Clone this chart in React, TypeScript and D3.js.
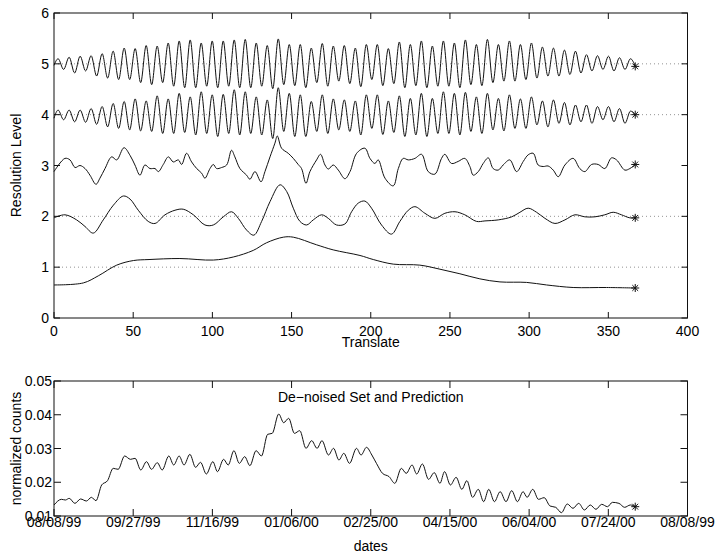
import React from "react";
import * as d3 from "d3";

// ---------- data ----------
const topXTicks = [0, 50, 100, 150, 200, 250, 300, 350, 400];
const topYTicks = [0, 1, 2, 3, 4, 5, 6];
const dottedLevels = [1, 2, 4, 5];

// weekly oscillation of levels 5 and 4: peak / trough deviations from the level
const cycleStart = 2.6;
const cyclePeriod = 6.95;
const level5Start = -0.03;
const level5End = -0.05;
const level5Peaks = [0.10, 0.13, 0.15, 0.16, 0.20, 0.25, 0.31, 0.30, 0.36, 0.35, 0.41, 0.45, 0.47, 0.41, 0.45, 0.45, 0.47, 0.48,
  0.41, 0.36, 0.49, 0.38, 0.38, 0.31, 0.40, 0.35, 0.36, 0.31, 0.38, 0.38, 0.30, 0.43, 0.38, 0.45, 0.35,
  0.45, 0.41, 0.47, 0.38, 0.48, 0.38, 0.45, 0.38, 0.41, 0.33, 0.31, 0.27, 0.25, 0.18, 0.16, 0.15, 0.12, 0.10];
const level5Troughs = [-0.11, -0.18, -0.14, -0.24, -0.28, -0.31, -0.31, -0.37, -0.41, -0.37, -0.44, -0.47, -0.47, -0.44, -0.47, -0.44, -0.47, -0.47,
  -0.44, -0.49, -0.41, -0.43, -0.47, -0.37, -0.44, -0.34, -0.39, -0.45, -0.31, -0.43, -0.39, -0.47, -0.43, -0.47, -0.44,
  -0.44, -0.47, -0.41, -0.43, -0.37, -0.34, -0.34, -0.31, -0.28, -0.24, -0.24, -0.21, -0.18, -0.14, -0.11, -0.14, -0.11];
const level4Start = -0.07;
const level4End = 0.0;
const level4Peaks = [0.09, 0.09, 0.09, 0.12, 0.16, 0.22, 0.26, 0.31, 0.27, 0.37, 0.31, 0.42, 0.35, 0.45, 0.39, 0.40, 0.49, 0.45,
  0.35, 0.29, 0.53, 0.42, 0.39, 0.26, 0.39, 0.31, 0.29, 0.27, 0.39, 0.39, 0.27, 0.37, 0.32, 0.42, 0.32,
  0.45, 0.42, 0.44, 0.35, 0.42, 0.32, 0.39, 0.31, 0.35, 0.27, 0.29, 0.24, 0.19, 0.19, 0.16, 0.16, 0.12, 0.07];
const level4Troughs = [-0.10, -0.14, -0.15, -0.19, -0.24, -0.27, -0.30, -0.32, -0.33, -0.37, -0.37, -0.35, -0.40, -0.37, -0.43, -0.37, -0.40, -0.37,
  -0.40, -0.47, -0.33, -0.43, -0.43, -0.33, -0.37, -0.30, -0.33, -0.40, -0.27, -0.39, -0.35, -0.43, -0.40, -0.43, -0.37,
  -0.37, -0.40, -0.33, -0.37, -0.30, -0.32, -0.27, -0.27, -0.20, -0.24, -0.17, -0.20, -0.14, -0.17, -0.10, -0.14, -0.17];

const level3Days = [0, 6.9, 10.1, 13.3, 16.4, 19.6, 22.7, 26.5, 29.0, 32.2, 36.4, 39.6, 44.2, 48.0, 51.1, 54.3, 57.4, 60.6, 63.8, 65.9,
  69.0, 72.2, 75.3, 78.5, 80.6, 83.7, 86.9, 90.1, 93.2, 95.3, 98.5, 100.6, 102.7, 105.8, 109.0, 112.1, 114.2, 117.4, 121.6, 123.7,
  126.9, 130.7, 133.2, 136.4, 139.5, 141.0, 143.7, 147.9, 151.1, 154.2, 156.3, 159.1, 161.6, 165.8, 168.3, 171.1, 173.2, 176.3, 179.5,
  183.7, 186.9, 191.1, 196.3, 199.5, 202.6, 204.7, 209.0, 214.2, 217.4, 220.5, 223.7, 227.9, 232.1, 236.3, 240.5, 244.7, 246.8, 251.0,
  255.2, 259.4, 262.6, 264.7, 267.9, 271.0, 274.2, 277.3, 280.5, 283.6, 287.8, 292.1, 296.3, 299.4, 302.6, 305.7, 308.9, 312.0, 315.2,
  318.4, 322.6, 327.8, 332.0, 335.2, 339.4, 343.6, 347.8, 352.0, 355.2, 360.4, 363.6, 367];
const level3Values = [2.88, 3.14, 3.11, 2.96, 3.0, 2.94, 2.81, 2.63, 2.75, 2.94, 3.17, 3.11, 3.35, 3.2, 3.01, 2.81, 3.01, 2.94, 2.94, 2.88,
  3.02, 3.17, 3.07, 3.11, 3.02, 3.24, 3.07, 2.94, 2.85, 2.75, 2.94, 3.02, 2.94, 2.96, 3.01, 3.3, 3.17, 2.94, 2.81, 2.73,
  2.88, 2.68, 2.88, 3.17, 3.44, 3.58, 3.34, 3.24, 3.14, 3.02, 2.94, 2.65, 2.88, 3.11, 3.22, 3.01, 2.93, 3.01, 2.91,
  2.74, 2.88, 3.24, 3.34, 3.14, 3.04, 3.11, 2.75, 2.6, 2.94, 3.14, 3.11, 3.14, 3.22, 2.88, 2.83, 3.14, 3.22, 3.04,
  3.08, 3.14, 2.98, 2.81, 2.88, 3.04, 3.15, 2.94, 2.91, 3.01, 3.11, 2.88, 3.08, 3.21, 3.24, 3.01, 2.98, 2.99, 2.91,
  2.78, 3.01, 3.14, 2.94, 2.88, 3.02, 3.02, 2.94, 3.15, 3.11, 2.91, 2.94, 3.02];

const level2Days = [0, 6.9, 14.3, 19.6, 24.8, 31.1, 37.5, 43.8, 48.0, 53.2, 59.5, 63.8, 70.1, 76.4, 81.6, 88.0, 95.3, 100.6, 106.9,
  112.1, 116.4, 121.6, 126.2, 131.1, 136.4, 142.7, 146.9, 151.1, 155.3, 159.5, 163.7, 169.0, 173.2, 178.4, 183.7, 187.9, 192.1,
  196.3, 200.5, 206.8, 213.1, 218.4, 223.7, 227.9, 234.2, 240.5, 246.8, 253.2, 259.4, 266.8, 272.1, 280.5, 289.0, 294.2, 299.4,
  304.7, 310.0, 316.3, 322.6, 328.9, 335.2, 341.5, 347.8, 353.1, 358.3, 363.6, 367];
const level2Values = [1.97, 2.03, 1.93, 1.8, 1.67, 1.93, 2.22, 2.4, 2.34, 2.12, 1.9, 1.86, 2.03, 2.12, 2.14, 2.03, 1.83, 1.83, 1.99,
  2.09, 1.96, 1.73, 1.63, 1.9, 2.29, 2.62, 2.49, 2.16, 1.9, 1.83, 1.93, 2.03, 1.96, 1.83, 1.85, 2.09, 2.26,
  2.3, 2.16, 1.83, 1.65, 1.9, 2.12, 2.19, 2.06, 1.96, 2.06, 2.09, 2.03, 1.9, 1.91, 1.93, 1.99, 2.08, 2.16,
  2.08, 1.96, 1.86, 1.93, 2.03, 1.99, 1.99, 2.03, 2.08, 2.03, 1.97, 1.97];

const level1Days = [0, 18.5, 28, 39.6, 50.1, 60, 79.5, 100.6, 113.2, 125.8, 134.2, 144.8, 151.1, 165.8, 176.3, 193.2, 201.6, 214.2,
  231, 243.7, 256.3, 268.9, 281.6, 298.4, 311, 327.8, 348.9, 367];
const level1Values = [0.65, 0.69, 0.83, 1.04, 1.13, 1.15, 1.17, 1.14, 1.2, 1.33, 1.48, 1.59, 1.59, 1.44, 1.34, 1.23, 1.15, 1.06,
  1.04, 0.96, 0.87, 0.77, 0.71, 0.70, 0.65, 0.60, 0.60, 0.59];

const dateTickLabels = ["08/08/99", "09/27/99", "11/16/99", "01/06/00", "02/25/00", "04/15/00", "06/04/00", "07/24/00", "08/08/99"];
const countTicks = [0.01, 0.02, 0.03, 0.04, 0.05];
const countDays = [0, 4.7, 7.2, 9.6, 13.2, 16.8, 20.5, 23.6, 26.5, 30.1, 33.8, 37.4, 40.5, 44.6, 48.3, 51.2, 54.8, 58.4, 61.6, 65.2,
  68.3, 72.5, 75.6, 79, 82.1, 85.8, 89.4, 92.5, 96.2, 100.3, 103.2, 107.1, 110, 113.6, 117, 120.4, 123.7, 127.6, 131, 134.9, 137.8,
  141.9, 145, 148.2, 151.8, 155.2, 159.1, 162.7, 166.1, 169.2, 173.3, 176.5, 179.9, 183, 186.6, 191, 193.9, 197.3, 200.7, 203.6,
  207.4, 211.6, 215.2, 219.3, 222.4, 226.1, 229, 232.6, 236.5, 240.1, 243.7, 246.6, 250.3, 253.9, 257.5, 260.7, 264.3, 267.9,
  271.3, 274.5, 278.1, 281.7, 285.4, 289, 292.6, 296.2, 298.7, 302.3, 305.9, 309.5, 313.2, 316.8, 320.4, 324.1, 327.7, 331.3,
  334.9, 338.6, 342.2, 345.8, 349.5, 352.6, 356.7, 360.3, 363.9, 367];
const countValues = [0.01326, 0.01494, 0.01474, 0.01523, 0.01375, 0.01504, 0.01444, 0.01553, 0.01454, 0.01919, 0.02047, 0.02412,
  0.02383, 0.02778, 0.02679, 0.02709, 0.02363, 0.02610, 0.02383, 0.02580, 0.02363, 0.02778, 0.02511, 0.02778, 0.02511, 0.02827,
  0.02442, 0.02590, 0.02244, 0.02610, 0.02314, 0.02679, 0.02511, 0.02936, 0.02560, 0.02758, 0.02491, 0.02936, 0.02778, 0.03420,
  0.03449, 0.04022, 0.03765, 0.03894, 0.03449, 0.03528, 0.03005, 0.03232, 0.03005, 0.03232, 0.02807, 0.03005, 0.02659, 0.02857,
  0.02560, 0.03005, 0.02807, 0.03035, 0.02807, 0.02560, 0.02264, 0.02165, 0.01968, 0.02412, 0.02264, 0.02511, 0.02244, 0.02541,
  0.02086, 0.02284, 0.01968, 0.02314, 0.01919, 0.02146, 0.01790, 0.02047, 0.01553, 0.01790, 0.01425, 0.01790, 0.01425, 0.01721,
  0.01425, 0.01751, 0.01425, 0.01721, 0.01553, 0.01790, 0.01494, 0.01543, 0.01296, 0.01257, 0.01099, 0.01356, 0.01227, 0.01375,
  0.01178, 0.01326, 0.01198, 0.01346, 0.01276, 0.01405, 0.01375, 0.01257, 0.01326, 0.01276];

// ---------- layout ----------
const W = 718, H = 554;
const FONT = "'Liberation Sans', Arial, Helvetica, sans-serif";
const LINE = "#111";

const xTop = d3.scaleLinear().domain([0, 400]).range([54, 687.5]);
const yTop = d3.scaleLinear().domain([0, 6]).range([318, 13]);
const xBot = d3.scaleLinear().domain([0, 400]).range([54, 687.5]);
const yBot = d3.scaleLinear().domain([0.01, 0.05]).range([516, 381]);

function weekly(level: number, start: number, peaks: number[], troughs: number[], end: number): [number, number][] {
  const pts: [number, number][] = [[0, level + start]];
  peaks.forEach((p, k) => {
    pts.push([cycleStart + cyclePeriod * k, level + p]);
    if (k < troughs.length) pts.push([cycleStart + cyclePeriod * (k + 0.5), level + troughs[k]]);
  });
  pts.push([367, level + end]);
  return pts;
}

const zip = (a: number[], b: number[]): [number, number][] => a.map((d, i) => [d, b[i]]);

function Asterisk({ x, y, r = 4 }: { x: number; y: number; r?: number }) {
  const d = r * 0.72;
  return (
    <path
      d={`M${x - r},${y}H${x + r}M${x},${y - r}V${y + r}M${x - d},${y - d}L${x + d},${y + d}M${x - d},${y + d}L${x + d},${y - d}`}
      stroke={LINE}
      strokeWidth={1}
      fill="none"
    />
  );
}

export default function App() {
  const topLine = d3.line<[number, number]>().x((d) => xTop(d[0])).y((d) => yTop(d[1]));
  const oscLine = topLine.curve(d3.curveMonotoneX);
  const smoothLine = d3.line<[number, number]>().x((d) => xTop(d[0])).y((d) => yTop(d[1])).curve(d3.curveCatmullRom.alpha(0.5));
  const botLine = d3.line<[number, number]>().x((d) => xBot(d[0])).y((d) => yBot(d[1])).curve(d3.curveMonotoneX);

  const series5 = weekly(5, level5Start, level5Peaks, level5Troughs, level5End);
  const series4 = weekly(4, level4Start, level4Peaks, level4Troughs, level4End);
  const series3 = zip(level3Days, level3Values);
  const series2 = zip(level2Days, level2Values);
  const series1 = zip(level1Days, level1Values);
  const countSeries = zip(countDays, countValues);

  const topL = xTop(0), topR = xTop(400), topT = yTop(6), topB = yTop(0);
  const botL = xBot(0), botR = xBot(400), botT = yBot(0.05), botB = yBot(0.01);
  const tk = 6, tkb = 7;

  const ends = [series5, series4, series3, series2, series1].map((s) => s[s.length - 1]);
  const lastCount = countSeries[countSeries.length - 1];

  return (
    <svg width={W} height={H} style={{ position: "absolute", left: 0, top: 0, background: "#fff" }} fontFamily={FONT}>
      <rect x={0} y={0} width={W} height={H} fill="#fff" />
      {/* ---------- top panel ---------- */}
      {dottedLevels.map((l) => (
        <line key={"dl" + l} x1={topL} x2={topR} y1={yTop(l)} y2={yTop(l)} stroke="#777" strokeWidth={0.8} strokeDasharray="1,3" />
      ))}
      <path d={oscLine(series5) || ""} fill="none" stroke={LINE} strokeWidth={1} />
      <path d={oscLine(series4) || ""} fill="none" stroke={LINE} strokeWidth={1} />
      <path d={smoothLine(series3) || ""} fill="none" stroke={LINE} strokeWidth={1} />
      <path d={smoothLine(series2) || ""} fill="none" stroke={LINE} strokeWidth={1} />
      <path d={smoothLine(series1) || ""} fill="none" stroke={LINE} strokeWidth={1} />
      {ends.map((p, i) => (
        <Asterisk key={"as" + i} x={xTop(p[0])} y={yTop(p[1])} />
      ))}
      <rect x={topL} y={topT} width={topR - topL} height={topB - topT} fill="none" stroke={LINE} strokeWidth={1} />
      {topXTicks.map((t) => (
        <g key={"xt" + t}>
          <line x1={xTop(t)} x2={xTop(t)} y1={topB} y2={topB - tk} stroke={LINE} />
          <line x1={xTop(t)} x2={xTop(t)} y1={topT} y2={topT + tk} stroke={LINE} />
          <text x={xTop(t)} y={336} fontSize={14} textAnchor="middle" fill="#000">{t}</text>
        </g>
      ))}
      {topYTicks.map((t) => (
        <g key={"yt" + t}>
          <line x1={topL} x2={topL + tk} y1={yTop(t)} y2={yTop(t)} stroke={LINE} />
          <line x1={topR} x2={topR - tk} y1={yTop(t)} y2={yTop(t)} stroke={LINE} />
          <text x={49} y={yTop(t) + 5} fontSize={14} textAnchor="end" fill="#000">{t}</text>
        </g>
      ))}
      <text x={(topL + topR) / 2} y={347} fontSize={14} textAnchor="middle" fill="#000">Translate</text>
      <text transform={`translate(20.5,${(topT + topB) / 2}) rotate(-90)`} fontSize={14} textAnchor="middle" fill="#000">Resolution Level</text>

      {/* ---------- bottom panel ---------- */}
      <path d={botLine(countSeries) || ""} fill="none" stroke={LINE} strokeWidth={1} />
      <Asterisk x={xBot(lastCount[0])} y={yBot(lastCount[1])} />
      <rect x={botL} y={botT} width={botR - botL} height={botB - botT} fill="none" stroke={LINE} strokeWidth={1} />
      {dateTickLabels.map((lab, i) => {
        const t = topXTicks[i];
        return (
          <g key={"dt" + i}>
            <line x1={xBot(t)} x2={xBot(t)} y1={botB} y2={botB - tkb} stroke={LINE} />
            <line x1={xBot(t)} x2={xBot(t)} y1={botT} y2={botT + tkb} stroke={LINE} />
            <text x={xBot(t)} y={527} fontSize={14} textAnchor="middle" fill="#000">{lab}</text>
          </g>
        );
      })}
      {countTicks.map((c) => (
        <g key={"ct" + c}>
          <line x1={botL} x2={botL + tkb} y1={yBot(c)} y2={yBot(c)} stroke={LINE} />
          <line x1={botR} x2={botR - tkb} y1={yBot(c)} y2={yBot(c)} stroke={LINE} />
          <text x={52} y={yBot(c) + 5} fontSize={14} textAnchor="end" fill="#000">{c.toFixed(2)}</text>
        </g>
      ))}
      <text x={(botL + botR) / 2} y={402} fontSize={14} textAnchor="middle" fill="#000">De−noised Set and Prediction</text>
      <text x={(botL + botR) / 2} y={551} fontSize={14} textAnchor="middle" fill="#000">dates</text>
      <text transform={`translate(20.5,${(botT + botB) / 2}) rotate(-90)`} fontSize={14} textAnchor="middle" fill="#000">normalized counts</text>
    </svg>
  );
}
